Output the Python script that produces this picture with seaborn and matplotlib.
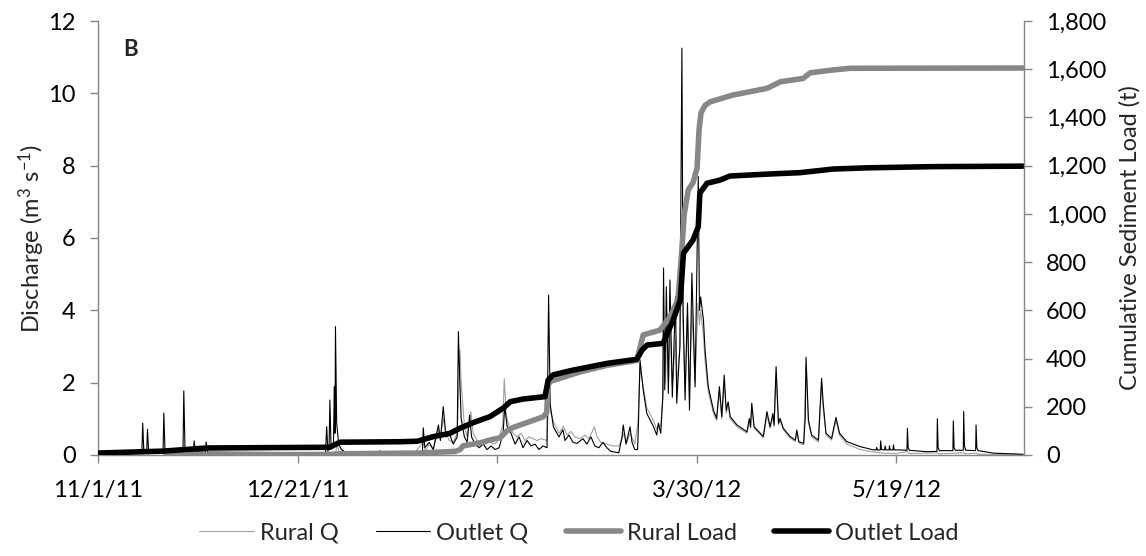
import pandas as pd
import matplotlib
matplotlib.use("Agg")
import matplotlib.pyplot as plt
from matplotlib.ticker import FuncFormatter
from matplotlib.lines import Line2D
import seaborn as sns

START = pd.Timestamp("2011-11-01")

# ---------------- data (day offsets from 11/1/11) ----------------
outlet_q_day = [0, 11.0, 11.2, 11.5, 12.2, 12.4, 12.7, 16.3, 16.5, 16.8, 21.3, 21.5, 21.8, 22.5,
                23.9, 24.1, 24.4, 26.9, 27.1, 27.4, 57.0, 57.3, 57.6, 57.9, 58.1, 58.4, 59.0, 59.2,
                59.4, 59.5, 59.8, 60.3, 61.0, 62.0, 70.5, 70.7, 71.0, 79.0, 81.3, 81.5, 81.9, 83.0,
                84.0, 85.3, 85.8, 86.5, 87.2, 88.0, 89.0, 90.0, 90.3, 90.6, 91.0, 91.8, 92.5, 93.1,
                93.6, 94.5, 95.5, 96.5, 97.5, 98.5, 99.5, 100.5, 101.5, 101.9, 102.5, 103.5, 104.5,
                105.5, 106.5, 107.5, 108.5, 109.5, 110.5, 111.5, 112.5, 112.9, 113.3, 114.1, 115.5,
                116.5, 117.0, 118.0, 119.0, 120.0, 121.5, 122.5, 123.5, 124.5, 125.5, 126.5, 127.5,
                128.5, 129.5, 130.5, 131.3, 131.6, 132.3, 133.3, 133.8, 134.5, 135.2, 135.4, 135.8,
                136.6, 137.5, 139.2, 140.0, 140.4, 141.0, 141.5, 141.7, 142.0, 142.4, 142.9, 143.3,
                143.9, 144.7, 145.0, 145.8, 146.3, 146.6, 147.1, 147.7, 148.2, 148.8, 149.6, 150.4,
                150.7, 151.0, 151.7, 152.1, 152.9, 154.2, 155.0, 155.7, 156.3, 156.9, 157.4, 157.9,
                158.4, 160.1, 162.6, 163.2, 163.5, 163.8, 164.4, 166.7, 167.6, 168.4, 169.1, 169.4,
                169.9, 170.5, 170.9, 171.7, 173.4, 174.7, 175.1, 175.6, 176.8, 177.2, 177.4, 178.0,
                178.8, 180.5, 181.3, 181.7, 182.4, 183.8, 184.9, 185.8, 187.6, 191.0, 194.3, 195.0,
                195.1, 195.3, 196.0, 196.1, 196.3, 197.1, 197.2, 197.4, 198.2, 198.3, 198.5, 199.2,
                199.3, 199.5, 201.0, 202.7, 202.8, 203.0, 203.3, 207.7, 210.2, 210.3, 210.5, 210.8,
                214.2, 214.3, 214.5, 214.8, 216.8, 216.9, 217.1, 217.4, 219.9, 220.0, 220.2, 220.5,
                224.4, 231.8]
outlet_q = [0.06, 0.06, 0.88, 0.07, 0.07, 0.71, 0.07, 0.07, 1.16, 0.08, 0.08, 1.77, 0.15, 0.08,
            0.08, 0.39, 0.09, 0.08, 0.36, 0.08, 0.06, 0.78, 0.10, 0.20, 1.52, 0.20, 0.30, 1.89,
            0.60, 3.55, 0.90, 0.30, 0.15, 0.08, 0.06, 0.12, 0.06, 0.06, 0.10, 0.75, 0.20, 0.35,
            0.15, 0.83, 0.40, 1.34, 0.50, 0.60, 0.30, 0.50, 3.41, 2.20, 1.00, 0.50, 0.35, 1.10,
            0.50, 0.30, 0.20, 0.30, 0.15, 0.25, 0.15, 0.20, 0.60, 1.34, 0.80, 0.60, 0.30,
            0.50, 0.20, 0.40, 0.25, 0.30, 0.15, 0.25, 0.20, 4.42, 1.40, 0.78, 0.50,
            0.70, 0.40, 0.55, 0.35, 0.32, 0.45, 0.30, 0.50, 0.25, 0.20, 0.35, 0.20,
            0.10, 0.08, 0.06, 0.50, 0.83, 0.30, 0.78, 0.35, 0.15, 0.15, 0.80, 2.63,
            1.80, 1.15, 0.78, 0.55, 0.88, 0.60, 1.60, 5.17, 1.80, 4.65, 1.70, 4.84,
            1.60, 4.37, 1.43, 3.00, 11.25, 4.00, 1.52, 4.20, 1.24, 5.03, 1.88, 7.70,
            4.00, 4.37, 3.73, 2.90, 1.89, 1.24, 1.01, 1.89, 1.06, 2.21, 1.24, 1.47,
            1.06, 0.83, 0.64, 1.01, 0.78, 1.43, 0.78, 0.51, 1.20, 0.78, 1.15, 0.83,
            2.44, 0.88, 1.01, 0.74, 0.51, 0.41, 0.69, 0.37, 0.32, 1.00, 2.70, 0.97,
            0.55, 0.41, 2.12, 1.43, 0.60, 0.46, 1.04, 0.60, 0.37, 0.23, 0.14, 0.14,
            0.21, 0.14, 0.14, 0.39, 0.15, 0.14, 0.25, 0.14, 0.14, 0.25, 0.14, 0.14,
            0.28, 0.14, 0.14, 0.13, 0.74, 0.20, 0.13, 0.09, 0.10, 1.00, 0.20, 0.12,
            0.12, 0.94, 0.20, 0.13, 0.13, 1.20, 0.25, 0.13, 0.12, 0.83, 0.20, 0.12,
            0.05, 0.02]

rural_q_day = [17.0, 57.0, 59.5, 59.9, 60.5, 62.0, 79.0, 81.5, 82.0, 83.0, 84.0, 85.3, 85.8, 86.5,
               87.2, 88.0, 89.0, 90.0, 90.7, 91.0, 91.8, 92.5, 93.4, 94.0, 95.0, 96.0, 97.0, 98.0,
               99.0, 100.0, 101.4, 101.8, 102.3, 103.0, 104.0, 105.0, 106.0, 107.0, 108.0, 109.0,
               110.0, 111.0, 112.5, 112.9, 113.4, 114.2, 115.5, 116.6, 117.5, 118.5, 119.5, 120.8,
               122.0, 123.0, 124.4, 125.0, 126.0, 127.5, 129.0, 130.5, 131.8, 132.5, 133.3, 134.5,
               135.3, 135.8, 136.6, 137.5, 139.2, 140.0, 140.4, 141.0, 141.7, 141.9, 142.2, 142.6,
               143.0, 143.3, 143.9, 144.7, 145.0, 145.8, 146.3, 146.6, 147.1, 147.7, 148.2, 148.8,
               149.6, 150.3, 150.7, 151.0, 151.7, 152.1, 152.9, 154.2, 155.0, 155.7, 156.3, 156.9,
               157.4, 157.9, 158.4, 160.1, 162.6, 163.2, 163.5, 163.8, 164.4, 166.7, 167.6, 168.4,
               169.1, 169.4, 169.9, 170.5, 170.9, 171.7, 173.4, 174.7, 175.1, 175.6, 176.8, 177.4,
               178.0, 178.8, 180.5, 181.3, 181.7, 182.4, 183.8, 184.9, 185.8, 187.6, 191.0, 194.3,
               197.0, 200.0, 202.8, 203.2, 210.3, 210.7, 216.9, 217.3, 220.0, 220.4, 231.8]
rural_q = [0.01, 0.01, 0.02, 0.30, 0.05, 0.02, 0.02, 0.35, 0.10, 0.30, 0.15, 0.70, 0.50, 1.00,
           0.60, 0.40, 0.35, 0.60, 2.90, 2.00, 0.80, 0.50, 1.20, 0.60, 0.40, 0.35, 0.30, 0.40,
           0.30, 0.35, 0.80, 2.12, 1.10, 0.80, 0.60, 0.50, 0.60, 0.40, 0.50, 0.45,
           0.40, 0.45, 0.40, 1.65, 1.20, 0.90, 0.60, 0.80, 0.55, 0.65, 0.50, 0.45,
           0.55, 0.45, 0.78, 0.50, 0.35, 0.30, 0.25, 0.25, 0.60, 0.35, 0.60, 0.30,
           0.90, 2.40, 1.90, 1.30, 0.95, 0.70, 0.85, 0.80, 1.80, 3.40, 2.00, 3.90,
           2.00, 3.60, 1.90, 3.20, 1.90, 3.00, 6.00, 3.50, 1.80, 3.90, 1.60, 4.00,
           2.00, 4.20, 3.60, 4.00, 3.30, 2.60, 1.75, 1.15, 0.95, 1.75, 1.00, 2.00,
           1.15, 1.35, 1.00, 0.78, 0.60, 0.95, 0.74, 1.30, 0.74, 0.48, 1.10, 0.74,
           1.05, 0.78, 2.20, 0.83, 0.95, 0.70, 0.47, 0.37, 0.60, 0.33, 0.28, 2.50,
           0.90, 0.50, 0.36, 1.95, 1.30, 0.55, 0.41, 0.95, 0.55, 0.30, 0.15, 0.08,
           0.05, 0.04, 0.10, 0.04, 0.06, 0.03, 0.06, 0.03, 0.05, 0.02, 0.01]

outlet_load_day = [0, 16.3, 27.3, 58.1, 59.6, 60.7, 75.7, 80.0, 84.0, 88.2, 90.7, 94.0, 98.2,
                   101.5, 103.3, 106.5, 112.0, 112.8, 114.0, 119.0, 127.6, 135.0, 136.3, 137.6,
                   141.6, 144.1, 145.9, 146.7, 149.1, 150.4, 150.8, 152.6, 155.8, 158.3, 167.7,
                   175.9, 184.2, 192.7, 209.3, 231.8]
outlet_load = [8, 16, 29, 32, 45, 53, 55, 57, 76, 90, 111, 134, 159,
               194, 221, 232, 242, 311, 332, 352, 380, 397, 435, 456,
               463, 560, 643, 837, 892, 947, 1086, 1127, 1140, 1157, 1165,
               1171, 1186, 1191, 1196, 1198]

rural_load_day = [17.0, 58.0, 60.5, 80.7, 89.5, 90.7, 91.5, 95.7, 98.2, 100.8, 102.5, 104.0,
                  111.5, 112.4, 112.8, 113.3, 120.8, 127.6, 135.0, 136.6, 140.8, 143.3, 145.3,
                  146.1, 146.9, 147.9, 149.1, 150.1, 150.6, 151.1, 152.1, 153.4, 159.1, 167.7,
                  171.0, 176.7, 178.4, 184.2, 188.5, 231.8]
rural_load = [0, 2, 5, 8, 15, 22, 38, 50, 62, 72, 100, 114,
              158, 175, 290, 305, 345, 372, 392, 498, 518, 573, 643,
              809, 1000, 1100, 1130, 1190, 1350, 1420, 1450, 1465, 1493, 1521,
              1548, 1562, 1585, 1597, 1604, 1605]

x_tick_days = [0, 50, 100, 150, 200]
x_end_day = 232
left_ticks = [0, 2, 4, 6, 8, 10, 12]
right_ticks = [0, 200, 400, 600, 800, 1000, 1200, 1400, 1600, 1800]


def frame(days, vals):
    return pd.DataFrame({"date": START + pd.to_timedelta(days, unit="D"), "v": vals})


sns.set_theme(style="white")
plt.rcParams["font.family"] = ["Lato", "DejaVu Sans"]
plt.rcParams["mathtext.default"] = "regular"

AX_GRAY = "#868686"
RURAL_Q_C = "#a0a0a0"
RURAL_L_C = "#878787"
FS = 17

fig = plt.figure(figsize=(11.46, 5.56), dpi=100)
ax = fig.add_axes([0.0855, 0.1817, 0.808, 0.7805])
ax2 = ax.twinx()

sns.lineplot(data=frame(rural_q_day, rural_q), x="date", y="v", ax=ax, color=RURAL_Q_C,
             linewidth=0.8, estimator=None, label="Rural Q", legend=False)
sns.lineplot(data=frame(outlet_q_day, outlet_q), x="date", y="v", ax=ax, color="black",
             linewidth=0.8, estimator=None, label="Outlet Q", legend=False)
sns.lineplot(data=frame(rural_load_day, rural_load), x="date", y="v", ax=ax2, color=RURAL_L_C,
             linewidth=4.0, estimator=None, label="Rural Load", legend=False,
             solid_capstyle="round", solid_joinstyle="round")
sns.lineplot(data=frame(outlet_load_day, outlet_load), x="date", y="v", ax=ax2, color="black",
             linewidth=4.0, estimator=None, label="Outlet Load", legend=False,
             solid_capstyle="round", solid_joinstyle="round")

ax.set_xlim(START, START + pd.Timedelta(days=x_end_day))
ax.set_ylim(0, 12)
ax2.set_ylim(0, 1800)
ax.set_yticks(left_ticks)
ax2.set_yticks(right_ticks)
tick_dates = [START + pd.Timedelta(days=d) for d in x_tick_days]
ax.set_xticks(tick_dates)
ax.set_xticklabels([f"{d.month}/{d.day}/{d.year % 100}" for d in tick_dates])
ax2.yaxis.set_major_formatter(FuncFormatter(lambda v, p: f"{int(v):,}"))

for a in (ax, ax2):
    a.grid(False)
    a.spines["top"].set_visible(False)
    for s in ("left", "right", "bottom"):
        a.spines[s].set_color(AX_GRAY)
        a.spines[s].set_linewidth(1.0)
ax.spines["right"].set_visible(False)
ax2.spines["left"].set_visible(False)
ax2.spines["bottom"].set_visible(False)

ax.tick_params(axis="y", direction="out", length=6, width=1, color=AX_GRAY, pad=10,
               labelsize=FS, left=True, labelcolor="black")
ax.tick_params(axis="x", direction="out", length=6, width=1, color=AX_GRAY, pad=12,
               labelsize=FS, bottom=True, labelcolor="black")
ax2.tick_params(axis="y", direction="out", length=6, width=1, color=AX_GRAY, pad=10,
                labelsize=FS, right=True, labelcolor="black")

ax.set_xlabel("")
ax.set_ylabel(r"Discharge (m$^{3}$ s$^{-1}$)", fontsize=FS)
ax2.set_ylabel("Cumulative Sediment Load (t)", fontsize=FS, rotation=90)
ax.yaxis.set_label_coords(-0.055, 0.5)
ax2.yaxis.set_label_coords(1.103, 0.5)

ax.text(0.035, 0.935, "B", transform=ax.transAxes, fontsize=FS - 1, fontweight="bold",
        ha="center", va="center")

handles = [Line2D([], [], color=RURAL_Q_C, lw=0.8),
           Line2D([], [], color="black", lw=0.8),
           Line2D([], [], color=RURAL_L_C, lw=4.0, solid_capstyle="round"),
           Line2D([], [], color="black", lw=4.0, solid_capstyle="round")]
labels = ["Rural Q", "Outlet Q", "Rural Load", "Outlet Load"]
fig.legend(handles, labels, loc="center", bbox_to_anchor=(0.505, 0.041), ncol=4,
           frameon=False, handlelength=2.3, handletextpad=0.25, columnspacing=1.6,
           fontsize=FS)

fig.savefig("out.png", dpi=100)
